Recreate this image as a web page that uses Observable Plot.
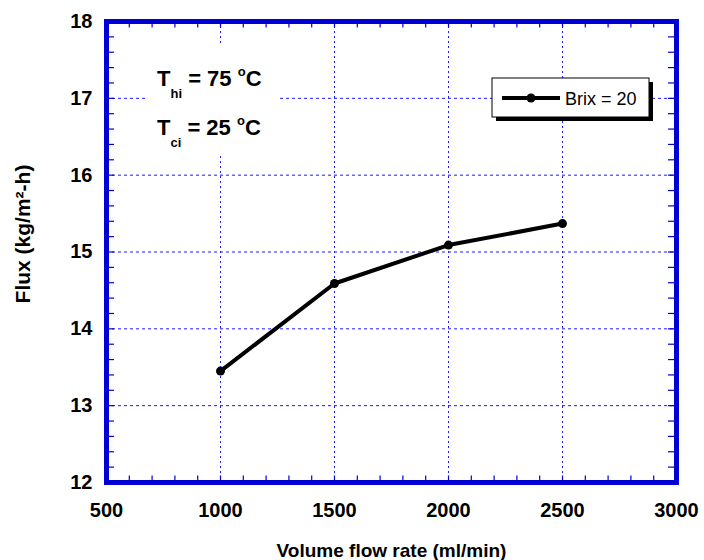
<!DOCTYPE html>
<html><head><meta charset="utf-8">
<script src="https://cdn.jsdelivr.net/npm/d3@7"></script>
<script src="https://cdn.jsdelivr.net/npm/@observablehq/plot@0.6"></script>
<style>body{margin:0;background:#fff}</style>
</head><body><div id="chart"></div>
<script>
// ---- data ----
const flowRates = [1000, 1500, 2000, 2500];
const flux = [13.45, 14.59, 15.09, 15.37];
const seriesName = "Brix = 20";
const xTicks = [500, 1000, 1500, 2000, 2500, 3000];
const yTicks = [12, 13, 14, 15, 16, 17, 18];
const xMinorTicks = d3.range(500, 3001, 100);
const yMinorTicks = d3.range(0, 31).map(i => 12 + i * 0.2);
const xTitle = "Volume flow rate (ml/min)";
const yTitle = "Flux (kg/m²-h)";
const annot1 = ["T", "hi", " = 75 ", "o", "C"];
const annot2 = ["T", "ci", " = 25 ", "o", "C"];

const data = flowRates.map((x, i) => ({x, y: flux[i]}));
const BLUE = "#0000d4";
const GRID = "#1a1aff";
const FONT = "'Liberation Sans', Arial, sans-serif";

const W = 704, H = 560, ML = 106, MR = 28, MT = 21, MB = 78;
const plotW = W - ML - MR, plotH = H - MT - MB;
const xDom = [xTicks[0], xTicks[xTicks.length - 1]];
const yDom = [yTicks[0], yTicks[yTicks.length - 1]];
// tick lengths (pixels) converted to data units
const xTickLen = 6.5 * (yDom[1] - yDom[0]) / plotH;
const yTickLen = 8 * (xDom[1] - xDom[0]) / plotW;

function annotation(index, scales, values, dims) {
  const g = d3.create("svg:g");
  const x0 = dims.marginLeft, y0 = dims.marginTop;
  g.append("rect").attr("x", x0 + 41).attr("y", y0 + 24).attr("width", 131).attr("height", 110).attr("fill", "white");
  const lines = [[annot1, 65], [annot2, 114]];
  for (const [parts, by] of lines) {
    const t = g.append("text").attr("x", x0 + 51).attr("y", y0 + by).attr("text-anchor", "start")
      .attr("font-family", FONT).attr("font-weight", "bold").attr("font-size", 22).attr("fill", "black");
    t.append("tspan").text(parts[0]);
    t.append("tspan").attr("font-size", 13).attr("dy", 12).text(parts[1]);
    t.append("tspan").attr("dy", -12).style("white-space", "pre").text(parts[2]);
    t.append("tspan").attr("font-size", 13).attr("dy", -10).text(parts[3]);
    t.append("tspan").attr("dy", 10).text(parts[4]);
  }
  return g.node();
}

function legend(index, scales, values, dims) {
  const g = d3.create("svg:g");
  const right = dims.width - dims.marginRight;
  const x0 = right - 184, y0 = dims.marginTop + 57;
  const w = 157, h = 39;
  g.append("rect").attr("x", x0 + 4).attr("y", y0 + 4).attr("width", w).attr("height", h).attr("fill", "black");
  g.append("rect").attr("x", x0).attr("y", y0).attr("width", w).attr("height", h).attr("fill", "white").attr("stroke", "black").attr("stroke-width", 1);
  g.append("line").attr("x1", x0 + 10).attr("x2", x0 + 68).attr("y1", y0 + 20).attr("y2", y0 + 20).attr("stroke", "black").attr("stroke-width", 4);
  g.append("circle").attr("cx", x0 + 39).attr("cy", y0 + 20).attr("r", 4.5).attr("fill", "black");
  g.append("text").attr("x", x0 + 73).attr("y", y0 + 27).attr("text-anchor", "start").attr("font-family", FONT).attr("font-size", 18).attr("fill", "black").text(seriesName);
  return g.node();
}

const chart = Plot.plot({
  width: W,
  height: H,
  marginLeft: ML,
  marginRight: MR,
  marginTop: MT,
  marginBottom: MB,
  style: {fontFamily: FONT, background: "white", color: "black"},
  x: {domain: xDom, axis: null},
  y: {domain: yDom, axis: null},
  marks: [
    Plot.gridX(xTicks, {stroke: GRID, strokeOpacity: 1, strokeWidth: 1, strokeDasharray: "2,3"}),
    Plot.gridY(yTicks, {stroke: GRID, strokeOpacity: 1, strokeWidth: 1, strokeDasharray: "3,3"}),
    annotation,
    legend,
    Plot.line(data, {x: "x", y: "y", stroke: "black", strokeWidth: 4}),
    Plot.dot(data, {x: "x", y: "y", r: 4.5, fill: "black", stroke: "none"}),
    // inward minor ticks on all four sides
    Plot.ruleX(xMinorTicks, {x: d => d, y1: () => yDom[0], y2: () => yDom[0] + xTickLen, stroke: BLUE, strokeWidth: 1.2}),
    Plot.ruleX(xMinorTicks, {x: d => d, y1: () => yDom[1], y2: () => yDom[1] - xTickLen, stroke: BLUE, strokeWidth: 1.2}),
    Plot.ruleY(yMinorTicks, {y: d => d, x1: () => xDom[0], x2: () => xDom[0] + yTickLen, stroke: BLUE, strokeWidth: 1.2}),
    Plot.ruleY(yMinorTicks, {y: d => d, x1: () => xDom[1], x2: () => xDom[1] - yTickLen, stroke: BLUE, strokeWidth: 1.2}),
    Plot.axisX(xTicks, {anchor: "bottom", tickSize: 0, tickPadding: 20, fontSize: 20, fontWeight: "bold", label: null, tickFormat: d => String(d)}),
    Plot.axisY(yTicks, {anchor: "left", tickSize: 0, tickPadding: 14, fontSize: 20, fontWeight: "bold", label: null, tickFormat: d => String(d)}),
    Plot.frame({stroke: BLUE, strokeWidth: 5}),
    Plot.text([xTitle], {frameAnchor: "bottom", textAnchor: "middle", lineAnchor: "bottom", dy: 74, fontSize: 19, fontWeight: "bold", fill: "black"}),
    Plot.text([yTitle], {frameAnchor: "left", textAnchor: "middle", lineAnchor: "middle", rotate: -90, dx: -83, dy: -18, fontSize: 21, fontWeight: "bold", fill: "black"})
  ]
});
document.getElementById("chart").append(chart);
</script>
</body></html>
